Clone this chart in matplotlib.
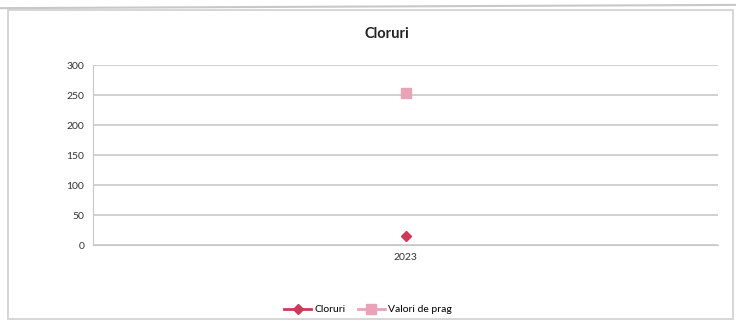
import matplotlib.pyplot as plt
import matplotlib.patches as patches

plt.rcParams['font.family'] = ['Lato', 'DejaVu Sans']

years = ['2023']
cloruri = [15]
valori_prag = [253]
yticks = [0, 50, 100, 150, 200, 250, 300]

fig = plt.figure(figsize=(7.36, 3.26), dpi=100)
fig.patch.set_facecolor('white')

# chart frame (scanned Excel chart)
frame = patches.Rectangle((0.011, 0.02), 0.985, 0.95, transform=fig.transFigure,
                          fill=False, edgecolor='#d0d0d0', linewidth=1.2)
fig.add_artist(frame)
fig.add_artist(plt.Line2D([0.0, 1.0], [0.975, 0.985], transform=fig.transFigure,
                          color='#c8c8c8', linewidth=1.5))

ax = fig.add_axes([0.126, 0.248, 0.85, 0.552])
x = range(len(years))
ax.plot(x, cloruri, color='#cc3a5a', marker='D', markersize=5, linewidth=2, label='Cloruri')
ax.plot(x, valori_prag, color='#e9a3b8', marker='s', markersize=7, linewidth=2,
        label='Valori de prag')

ax.set_xlim(-0.5, 0.5)
ax.set_ylim(0, 300)
ax.set_yticks(yticks)
ax.set_xticks(list(x))
ax.set_xticklabels(years)
ax.grid(axis='y', color='#c8c8c8', linewidth=1.2)
ax.set_axisbelow(True)
for side in ['top', 'right']:
    ax.spines[side].set_visible(False)
for side in ['left', 'bottom']:
    ax.spines[side].set_color('#c8c8c8')
ax.tick_params(length=0, labelsize=7.5, colors='#333333', pad=6)

fig.text(0.525, 0.895, 'Cloruri', ha='center', va='center', fontsize=10.5,
         fontweight='bold', color='#222222')

fig.legend(loc='center', bbox_to_anchor=(0.5, 0.05), ncol=2, frameon=False,
           fontsize=7.5, handlelength=2.6, columnspacing=1.2, handletextpad=0.3)

fig.savefig('out.png', dpi=100)
